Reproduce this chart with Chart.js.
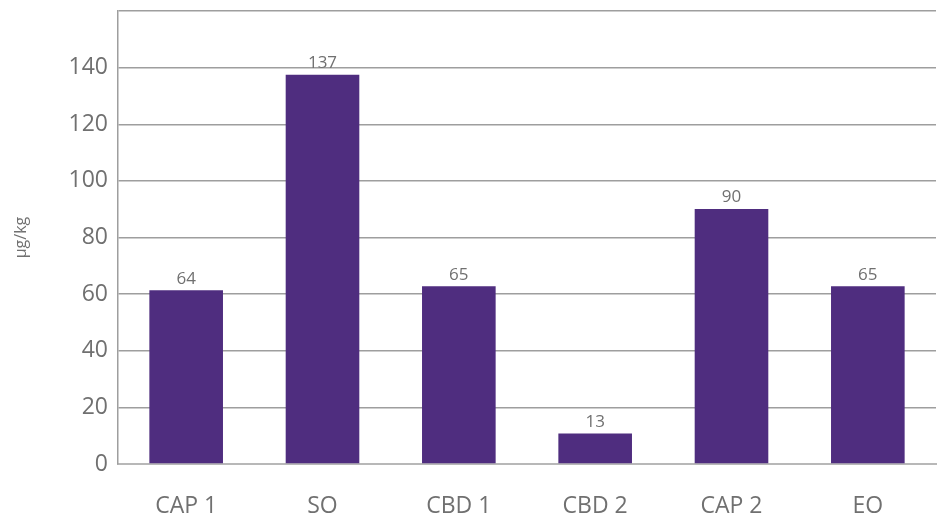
<!DOCTYPE html>
<html>
<head>
<meta charset="utf-8">
<script src="https://cdn.jsdelivr.net/npm/chart.js@4"></script>
<style>
    html, body { margin: 0; padding: 0; background: #fff; }
    #wrap { width: 940px; height: 521px; }
</style>
</head>
<body>
<div id="wrap"><canvas id="residueChart"></canvas></div>
<script>
var categories = ["CAP 1", "SO", "CBD 1", "CBD 2", "CAP 2", "EO"];
var barValues = [61.4, 137.5, 62.8, 10.8, 90.1, 62.8];
var valueLabels = ["64", "137", "65", "13", "90", "65"];
var yTicks = [0, 20, 40, 60, 80, 100, 120, 140, 160];

// Labels over the bars
var barLabels = {
    id: 'barLabels',
    afterDatasetsDraw: function(chart) {
        var ctx = chart.ctx;
        var meta = chart.getDatasetMeta(0);
        ctx.save();
        ctx.font = '17px "Open Sans", sans-serif';
        ctx.fillStyle = '#707070';
        ctx.textAlign = 'center';
        ctx.textBaseline = 'bottom';
        meta.data.forEach(function(bar, i) {
            ctx.fillText(valueLabels[i], bar.x, bar.y - 3);
        });
        ctx.restore();
    }
};

var ctx = document.getElementById('residueChart').getContext('2d');
var chart = new Chart(ctx, {
    type: 'bar',
    data: {
        labels: categories,
        datasets: [{
            label: 'µg/kg',
            data: barValues,
            backgroundColor: '#4f2d7f',
            categoryPercentage: 1,
            barPercentage: 0.54
        }]
    },
    options: {
        responsive: true,
        maintainAspectRatio: false,
        animation: false,
        layout: { padding: { top: 0, right: 4, left: 0, bottom: 0 } },
        plugins: {
            legend: { display: false },
            tooltip: { enabled: false }
        },
        scales: {
            x: {
                grid: { display: false },
                border: { color: '#b8b8b8', width: 2 },
                ticks: {
                    color: '#707070',
                    font: { family: '"Open Sans", sans-serif', size: 23 },
                    padding: 21
                },
                afterFit: function(scale) { scale.height = 57; }
            },
            y: {
                min: 0,
                max: 160,
                afterBuildTicks: function(scale) {
                    scale.ticks = yTicks.map(function(v) { return { value: v }; });
                },
                grid: { color: '#9e9e9e', lineWidth: 1.5, drawTicks: false },
                border: { color: '#9e9e9e', width: 1.5 },
                ticks: {
                    color: '#707070',
                    font: { family: '"Open Sans", sans-serif', size: 23 },
                    padding: 10,
                    callback: function(v) { return v === 160 ? '' : v; }
                },
                title: {
                    display: true,
                    text: 'µg/kg',
                    color: '#707070',
                    font: { family: '"Open Sans", sans-serif', size: 16 },
                    padding: { top: 12, bottom: 0 }
                },
                afterFit: function(scale) {
                    scale.width = 118;
                    scale.paddingTop = 11;
                    scale.paddingBottom = 0;
                }
            }
        }
    },
    plugins: [barLabels]
});
</script>
</body>
</html>
